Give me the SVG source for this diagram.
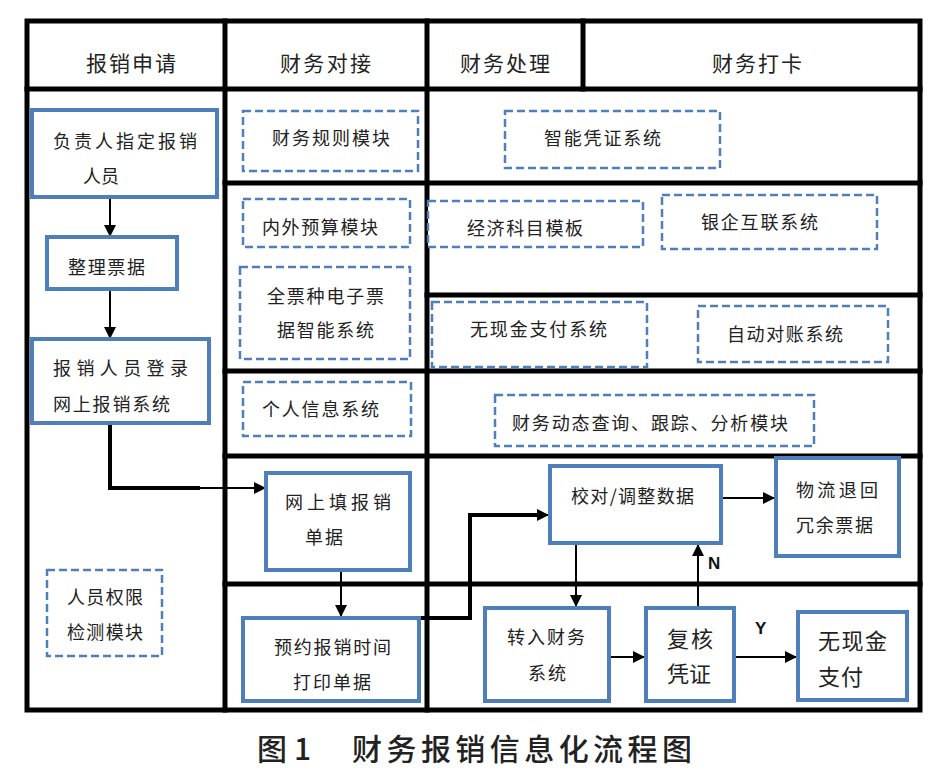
<svg xmlns="http://www.w3.org/2000/svg" width="942" height="781" viewBox="0 0 942 781">
<style>
.grid{stroke:#000;stroke-width:5;fill:none;stroke-linecap:square}
.solid{fill:#fff;stroke:#4F7FBA;stroke-width:4}
.dash{fill:#fff;stroke:#4F7FBA;stroke-width:2.5;stroke-dasharray:8 4}
.t{font-family:"Noto Sans CJK SC","Liberation Sans",sans-serif;font-size:18px;fill:#222}
.h{font-size:21px}
.b{font-size:22px}
.c{stroke:#000;stroke-width:2;fill:none}
.ct{stroke:#000;stroke-width:4;fill:none}
.lab{font-family:"Liberation Sans",Arial,sans-serif;font-weight:bold;font-size:17px;fill:#111}
.cap{font-family:"Noto Sans CJK SC","Liberation Sans",sans-serif;font-size:30px;font-weight:500;fill:#222}
</style>
<defs>
<marker id="ar2" viewBox="0 0 10 10" refX="10" refY="5" markerWidth="12" markerHeight="12" markerUnits="userSpaceOnUse" orient="auto">
<path d="M0,0 L10,5 L0,10 z" fill="#000"/>
</marker>
</defs>
<rect width="942" height="781" fill="#fff"/>
<g id="table">
<rect class="grid" x="27" y="21" width="893" height="689"/>
<line class="grid" x1="27" y1="89" x2="920" y2="89"/>
<line class="grid" x1="225" y1="21" x2="225" y2="710"/>
<line class="grid" x1="427" y1="21" x2="427" y2="710"/>
<line class="grid" x1="583" y1="21" x2="583" y2="89"/>
<line class="grid" x1="225" y1="183" x2="920" y2="183"/>
<line class="grid" x1="427" y1="295" x2="920" y2="295"/>
<line class="grid" x1="225" y1="371" x2="920" y2="371"/>
<line class="grid" x1="225" y1="456" x2="920" y2="456"/>
<line class="grid" x1="225" y1="584" x2="920" y2="584"/>
<text class="t h" x="86" y="71" textLength="90">报销申请</text>
<text class="t h" x="280" y="71" textLength="91">财务对接</text>
<text class="t h" x="460" y="71" textLength="90">财务处理</text>
<text class="t h" x="712" y="71" textLength="90">财务打卡</text>
</g>
<g id="connectors">
<line class="c" x1="110" y1="198" x2="110" y2="237" marker-end="url(#ar2)"/>
<line class="c" x1="110" y1="290" x2="110" y2="339" marker-end="url(#ar2)"/>
<path class="ct" d="M110,424 V488 H200"/>
<path class="c" d="M198,488 H266" marker-end="url(#ar2)"/>
<line class="c" x1="341" y1="571" x2="341" y2="617" marker-end="url(#ar2)"/>
<path class="ct" d="M419,618 H470 V515 H540"/>
<path class="c" d="M538,515 H549" marker-end="url(#ar2)"/>
<line class="c" x1="576" y1="544" x2="576" y2="607" marker-end="url(#ar2)"/>
<line class="c" x1="610" y1="657" x2="645" y2="657" marker-end="url(#ar2)"/>
<line class="c" x1="698" y1="607" x2="698" y2="544" marker-end="url(#ar2)"/>
<line class="c" x1="735" y1="657" x2="797" y2="657" marker-end="url(#ar2)"/>
<line class="c" x1="722" y1="498" x2="775" y2="498" marker-end="url(#ar2)"/>
<text class="lab" x="708" y="569">N</text>
<text class="lab" x="755" y="634">Y</text>
</g>
<g id="n1"><rect class="solid" x="32" y="110" width="185" height="87"/>
<text class="t" x="53" y="148" textLength="144">负责人指定报销</text>
<text class="t" x="83" y="183">人员</text></g>
<g id="n2"><rect class="solid" x="47" y="237" width="130" height="52"/>
<text class="t" x="68" y="274" textLength="77">整理票据</text></g>
<g id="n3"><rect class="solid" x="32" y="339" width="177" height="84"/>
<text class="t" x="53" y="375" textLength="135">报销人员登录</text>
<text class="t" x="53" y="411" textLength="117">网上报销系统</text></g>
<g id="n4"><rect class="dash" x="47" y="570" width="115" height="86"/>
<text class="t" x="67" y="604" textLength="76">人员权限</text>
<text class="t" x="67" y="639" textLength="76">检测模块</text></g>
<g id="n5"><rect class="dash" x="243" y="111" width="175" height="60"/>
<text class="t" x="272" y="145" textLength="118">财务规则模块</text></g>
<g id="n6"><rect class="dash" x="243" y="199" width="167" height="48"/>
<text class="t" x="262" y="234" textLength="116">内外预算模块</text></g>
<g id="n7"><rect class="dash" x="240" y="267" width="170" height="92"/>
<text class="t" x="267" y="303" textLength="117">全票种电子票</text>
<text class="t" x="277" y="337" textLength="97">据智能系统</text></g>
<g id="n8"><rect class="dash" x="243" y="382" width="168" height="54"/>
<text class="t" x="262" y="416" textLength="117">个人信息系统</text></g>
<g id="n9"><rect class="solid" x="266" y="473" width="144" height="97"/>
<text class="t" x="285" y="509" textLength="106">网上填报销</text>
<text class="t" x="305" y="544" textLength="38">单据</text></g>
<g id="n10"><rect class="solid" x="243" y="618" width="176" height="83"/>
<text class="t" x="274" y="654" textLength="117">预约报销时间</text>
<text class="t" x="293" y="689" textLength="78">打印单据</text></g>
<g id="n11"><rect class="dash" x="505" y="111" width="215" height="57"/>
<text class="t" x="544" y="145" textLength="117">智能凭证系统</text></g>
<g id="n12"><rect class="dash" x="428" y="201" width="215" height="46"/>
<text class="t" x="467" y="235" textLength="116">经济科目模板</text></g>
<g id="n13"><rect class="dash" x="662" y="195" width="215" height="54"/>
<text class="t" x="701" y="229" textLength="117">银企互联系统</text></g>
<g id="n14"><rect class="dash" x="432" y="302" width="215" height="65"/>
<text class="t" x="470" y="336" textLength="137">无现金支付系统</text></g>
<g id="n15"><rect class="dash" x="698" y="306" width="190" height="56"/>
<text class="t" x="727" y="341" textLength="116">自动对账系统</text></g>
<g id="n16"><rect class="dash" x="495" y="395" width="319" height="51"/>
<text class="t" x="512" y="430" textLength="276">财务动态查询、跟踪、分析模块</text></g>
<g id="n17"><rect class="solid" x="550" y="466" width="171" height="77"/>
<text class="t" x="571" y="503" textLength="123">校对/调整数据</text></g>
<g id="n18"><rect class="solid" x="776" y="458" width="123" height="98"/>
<text class="t" x="796" y="497" textLength="82">物流退回</text>
<text class="t" x="796" y="532" textLength="77">冗余票据</text></g>
<g id="n19"><rect class="solid" x="485" y="608" width="124" height="93"/>
<text class="t" x="507" y="644" textLength="78">转入财务</text>
<text class="t" x="528" y="680" textLength="38">系统</text></g>
<g id="n20"><rect class="solid" x="646" y="608" width="88" height="93"/>
<text class="t b" x="667" y="647" textLength="46">复核</text>
<text class="t b" x="667" y="682" textLength="44">凭证</text></g>
<g id="n21"><rect class="solid" x="798" y="612" width="109" height="88"/>
<text class="t b" x="818" y="649" textLength="69">无现金</text>
<text class="t b" x="818" y="685" textLength="45">支付</text></g>
<g id="caption">
<text class="cap" x="257" y="760">图</text>
<text class="cap" x="294" y="760">1</text>
<text class="cap" x="352" y="760" textLength="340">财务报销信息化流程图</text>
</g>
</svg>
